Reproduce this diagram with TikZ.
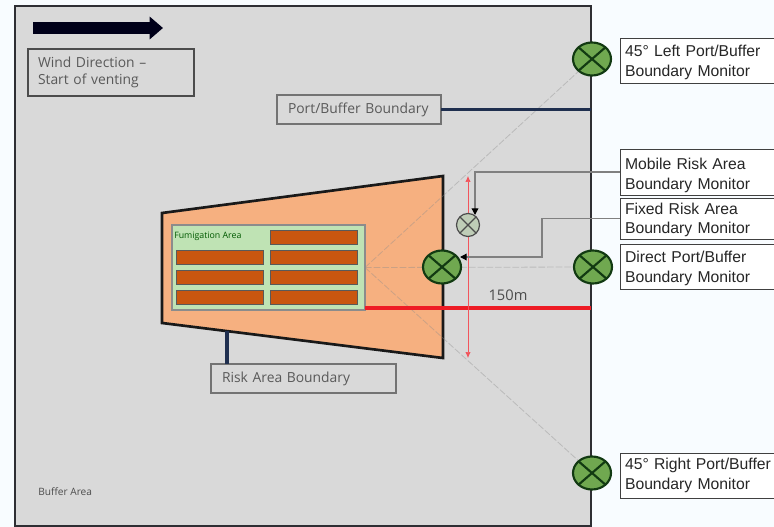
\documentclass[tikz,border=0pt]{standalone}
\usepackage{fontspec}
\setmainfont{Liberation Sans}
\newfontfamily\blurfont{Open Sans}
\usetikzlibrary{shapes.geometric,arrows.meta,calc}
\pgfdeclarelayer{under}
\pgfsetlayers{under,main}
\definecolor{pagebg}{HTML}{F8FCFF}
\definecolor{areagrey}{HTML}{D9D9D9}
\definecolor{edgedark}{HTML}{2E2E33}
\definecolor{navy}{HTML}{1F2F4F}
\definecolor{riskorange}{HTML}{F6B080}
\definecolor{fumgreen}{HTML}{BFE3B4}
\definecolor{barorange}{HTML}{C9560F}
\definecolor{monitorgreen}{HTML}{70A850}
\definecolor{monitordark}{HTML}{123A12}
\definecolor{redline}{HTML}{EE1C25}
\tikzset{
  sized/.style 2 args={minimum width=#1*0.75pt,minimum height=#2*0.75pt,inner sep=0pt,outer sep=0pt},
  area/.style={rectangle,fill=areagrey,draw=edgedark,line width=1.4pt},
  blurbox/.style={rectangle,fill=areagrey,draw=#1,line width=1pt,font=\blurfont\fontsize{10.4pt}{12.8pt}\selectfont,text=black!65,align=left},
  blurbox/.default=black!55,
  bar/.style={rectangle,fill=barorange,draw=black!65,line width=.7pt},
  labelbox/.style={rectangle,fill=white,draw=black!75,line width=.7pt,font=\fontsize{11.8pt}{15pt}\selectfont,text=black!85,align=left},
  monitor/.style={ellipse,fill=monitorgreen,draw=monitordark,line width=#1,
    path picture={\draw[monitordark,line width=#1]
      (path picture bounding box.north west)--(path picture bounding box.south east)
      (path picture bounding box.north east)--(path picture bounding box.south west);}},
  sight/.style={draw=black!45,opacity=.4,line width=.6pt,dash pattern=on 5pt off 1.5pt},
  leader/.style={draw=black!50,line width=1pt},
  tipped/.style={-{Triangle[length=5pt,width=5pt,color=black]}},
  boundary/.style={draw=navy,line width=2.6pt},
  measure/.style={draw=redline!75,line width=.5pt,{Latex[length=4.5pt,width=4pt]}-{Latex[length=4.5pt,width=4pt]}}
}
\begin{document}
\begin{tikzpicture}[x=0.75pt,y=-0.75pt]
\useasboundingbox (0,0) rectangle (774,527);
% nodes that the lines run to
\node[rectangle,fill=fumgreen,draw=black!45,line width=.8pt,sized={193}{85}] (fum) at (268.5,267.5) {};
\node[monitor=1.6pt,sized={38}{33}] (mdirectrisk) at (442,267) {};
\node[monitor=1.6pt,sized={38}{33}] (mdirect) at (593,267) {};
\node[monitor=1.6pt,sized={38}{33}] (mleft) at (592,59) {};
\node[monitor=1.6pt,sized={38}{33}] (mright) at (592,473) {};
\begin{pgfonlayer}{under}
\fill[pagebg] (0,0) rectangle (774,527);
\node[area,sized={576}{520}] (buffer) at (303,266) {};
\draw[line width=2pt,draw=black!90,fill=riskorange,line join=miter] (162,213) coordinate (rNW) -- (443,176) coordinate (rNE) -- (443,358) coordinate (rSE) -- (162,323) coordinate (rSW) -- cycle;
\coordinate (apex) at (fum.east);
\draw[sight] (apex) -- (mleft);
\draw[sight] (apex) -- (mright);
\draw[sight] (apex) -- (mdirect);
\end{pgfonlayer}
% wind arrow
\coordinate (windA) at (33,28);
\coordinate (windB) at (163,28);
\draw[line width=9.5pt,draw=black!90!blue,-{Triangle[length=10pt,width=16.5pt]}] (windA) -- (windB);
\node[blurbox=black!70,sized={166}{47},text width=146*0.75pt] (wind) at (111,72.5) {Wind Direction –\\Start of venting};
\node[anchor=west,inner sep=0pt,font=\blurfont\fontsize{6.6pt}{7pt}\selectfont,text=green!35!black] (fumtxt) at (174,236) {Fumigation Area};
\node[bar,sized={87}{14}] (b1) at (313.5,237) {};
\node[bar,sized={87}{14}] (b2) at (219.5,257) {};
\node[bar,sized={87}{14}] (b3) at (313.5,257) {};
\node[bar,sized={87}{14}] (b4) at (219.5,277) {};
\node[bar,sized={87}{14}] (b5) at (313.5,277) {};
\node[bar,sized={87}{14}] (b6) at (219.5,297.5) {};
\node[bar,sized={87}{14}] (b7) at (313.5,297.5) {};
% red distance
\coordinate (redstart) at (365,308);
\coordinate (redend) at (591,308);
\draw[line width=3.6pt,draw=redline] (redstart) -- (redend);
% dimension
\coordinate (dimT) at (468,176);
\coordinate (dimB) at (468,358);
\draw[measure] (dimT) -- (dimB);
\node[ellipse,fill=areagrey!75!monitorgreen,draw=black!70,line width=.9pt,sized={23}{23},
  path picture={\draw[black!70,line width=.9pt]
    (path picture bounding box.north west)--(path picture bounding box.south east)
    (path picture bounding box.north east)--(path picture bounding box.south west);}] (msmall) at (468,225) {};
\node[inner sep=0pt,font=\blurfont\fontsize{11pt}{12pt}\selectfont,text=black!70] (dist) at (508,295) {150m};
% text boxes
\node[blurbox,sized={164}{29},text width=142*0.75pt] (port) at (359,109.5) {Port/Buffer Boundary};
\node[blurbox,sized={185}{29},text width=163*0.75pt] (risk) at (303.5,378.5) {Risk Area Boundary};
\coordinate (portend) at (591,109.5);
\draw[boundary] (port.east) -- (portend);
\coordinate (riskup) at ($(rSW)!0.231!(rSE)$);
\coordinate (riskdown) at (risk.north -| riskup);
\draw[boundary] (riskup) -- (riskdown);
\node[anchor=west,inner sep=0pt,font=\blurfont\fontsize{7.6pt}{9pt}\selectfont,text=black!70] (bufftxt) at (38,492) {Buffer Area};
% label boxes
\node[labelbox,sized={158}{45},text width=148*0.75pt] (l1) at (699,60.5) {\rule{0pt}{11.5pt}45° Left Port/Buffer\\Boundary Monitor};
\node[labelbox,sized={158}{46},text width=148*0.75pt] (l2) at (699,172) {\rule{0pt}{13pt}Mobile Risk Area\\Boundary Monitor};
\node[labelbox,sized={158}{41},text width=148*0.75pt,font=\fontsize{11.8pt}{14pt}\selectfont] (l3) at (699,218.5) {\rule{0pt}{10.5pt}Fixed Risk Area\\Boundary Monitor};
\node[labelbox,sized={158}{45},text width=148*0.75pt] (l4) at (699,266.5) {\rule{0pt}{11.5pt}Direct Port/Buffer\\Boundary Monitor};
\node[labelbox,sized={158}{45},text width=148*0.75pt] (l5) at (699,475.5) {45° Right Port/Buffer\\Boundary Monitor};
% leaders
\draw[leader,tipped] (l2.west) -- (475,172) -- (475,215);
\draw[leader,tipped] (l3.west) -- (542,218.5) -- (542,257) -- (460,257);
\end{tikzpicture}
\end{document}
